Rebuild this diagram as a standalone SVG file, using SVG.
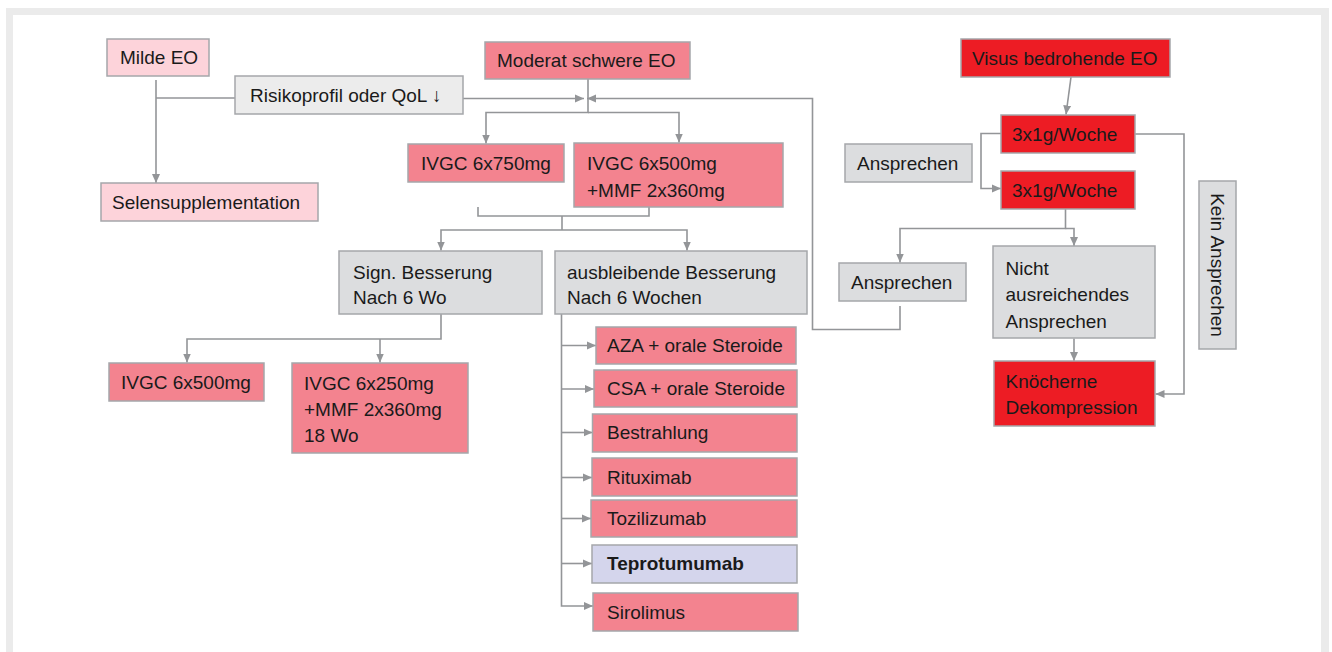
<svg xmlns="http://www.w3.org/2000/svg" width="1332" height="652" viewBox="0 0 1332 652">
<style>
text{font-family:"Liberation Sans",Arial,sans-serif;font-size:19px;fill:#1a1a1a}
.b{stroke:#a5a7aa;stroke-width:1.5}
.pl{fill:#fdd3da}
.pk{fill:#f3838f}
.rd{fill:#ed1c24}
.gy{fill:#dcdddf}
.gl{fill:#ececec}
.lv{fill:#d4d5ec}
.c{fill:none;stroke:#939598;stroke-width:1.6}
.bold{font-weight:bold}
</style>
<defs>
<marker id="ah" markerUnits="userSpaceOnUse" markerWidth="10" markerHeight="9" refX="9" refY="4.5" orient="auto">
<path d="M0,0.5 L9,4.5 L0,8.5 z" fill="#939598"/>
</marker>
</defs>
<rect x="6" y="8" width="1323" height="650" fill="#ebebeb"/>
<rect x="13" y="15" width="1308" height="640" fill="#ffffff"/>

<g id="connectors">
<path class="c" d="M156,80 V183" marker-end="url(#ah)"/>
<path class="c" d="M235,98 H156"/>
<path class="c" d="M463,98.5 H584" marker-end="url(#ah)"/>
<path class="c" d="M588,79 V112.5 H486 V143.5" marker-end="url(#ah)"/>
<path class="c" d="M588,112.5 H679 V142.5" marker-end="url(#ah)"/>
<path class="c" d="M900,306 V329.5 H812.5 V98.5 H587" marker-end="url(#ah)"/>
<path class="c" d="M478,207 V216 H649 V207"/>
<path class="c" d="M562,216 V230"/>
<path class="c" d="M562,230 H441 V250.5" marker-end="url(#ah)"/>
<path class="c" d="M562,230 H687 V250.5" marker-end="url(#ah)"/>
<path class="c" d="M441,314 V339 H187 V362.5" marker-end="url(#ah)"/>
<path class="c" d="M380,339 V362.5" marker-end="url(#ah)"/>
<path class="c" d="M561.5,314 V606 H593" marker-end="url(#ah)"/>
<path class="c" d="M561.5,345.5 H596" marker-end="url(#ah)"/>
<path class="c" d="M561.5,389 H594" marker-end="url(#ah)"/>
<path class="c" d="M561.5,432.5 H592.5" marker-end="url(#ah)"/>
<path class="c" d="M561.5,477.5 H592" marker-end="url(#ah)"/>
<path class="c" d="M561.5,518.5 H591" marker-end="url(#ah)"/>
<path class="c" d="M561.5,563.5 H592" marker-end="url(#ah)"/>
<path class="c" d="M1071,77 L1066,114.5" marker-end="url(#ah)"/>
<path class="c" d="M1001,133.5 H981 V188.5 H1001" marker-end="url(#ah)"/>
<path class="c" d="M1135,134 H1184 V394 H1155.5" marker-end="url(#ah)"/>
<path class="c" d="M1065.5,209 V228.5 H900 V262.5" marker-end="url(#ah)"/>
<path class="c" d="M1065.5,228.5 H1074 V246" marker-end="url(#ah)"/>
<path class="c" d="M1074,338.5 V361" marker-end="url(#ah)"/>
</g>

<g id="milde"><rect class="b pl" x="107" y="39" width="102" height="37"/><text x="120" y="64">Milde EO</text></g>
<g id="risiko"><rect class="b gl" x="235" y="76" width="228" height="38"/><text x="250" y="101.5">Risikoprofil oder QoL ↓</text></g>
<g id="selen"><rect class="b pl" x="101" y="183" width="217" height="38"/><text x="112" y="208.5">Selensupplementation</text></g>
<g id="moderat"><rect class="b pk" x="485" y="42" width="205" height="37"/><text x="497" y="67">Moderat schwere EO</text></g>
<g id="ivgc750"><rect class="b pk" x="408" y="144" width="156" height="38"/><text x="421" y="169.5">IVGC 6x750mg</text></g>
<g id="ivgc500mmf"><rect class="b pk" x="574" y="143" width="209" height="64"/><text x="587" y="170">IVGC 6x500mg</text><text x="587" y="196.5">+MMF 2x360mg</text></g>
<g id="sign"><rect class="b gy" x="339" y="251" width="203" height="63"/><text x="353" y="279">Sign. Besserung</text><text x="353" y="304">Nach 6 Wo</text></g>
<g id="ausbleibend"><rect class="b gy" x="555" y="251" width="252" height="63"/><text x="567" y="278.5">ausbleibende Besserung</text><text x="567" y="303.5">Nach 6 Wochen</text></g>
<g id="ivgc500"><rect class="b pk" x="109" y="363" width="155" height="38"/><text x="121" y="388.5">IVGC 6x500mg</text></g>
<g id="ivgc250"><rect class="b pk" x="292" y="363" width="176" height="90"/><text x="304" y="390">IVGC 6x250mg</text><text x="304" y="416">+MMF 2x360mg</text><text x="304" y="441.5">18 Wo</text></g>
<g id="aza"><rect class="b pk" x="596" y="327" width="200" height="37"/><text x="607" y="352">AZA + orale Steroide</text></g>
<g id="csa"><rect class="b pk" x="594" y="370" width="203" height="37"/><text x="607" y="395">CSA + orale Steroide</text></g>
<g id="bestrahlung"><rect class="b pk" x="592.5" y="414" width="204.5" height="38"/><text x="607" y="439">Bestrahlung</text></g>
<g id="rituximab"><rect class="b pk" x="592" y="458" width="205" height="38"/><text x="607" y="483.5">Rituximab</text></g>
<g id="tozilizumab"><rect class="b pk" x="591" y="500" width="206" height="37"/><text x="607" y="525">Tozilizumab</text></g>
<g id="teprotumumab"><rect class="b lv" x="592" y="545" width="205" height="38"/><text class="bold" x="607" y="570">Teprotumumab</text></g>
<g id="sirolimus"><rect class="b pk" x="593" y="593" width="205" height="38"/><text x="607" y="618.5">Sirolimus</text></g>
<g id="visus"><rect class="b rd" x="961" y="39" width="209" height="38"/><text x="972" y="64.5">Visus bedrohende EO</text></g>
<g id="woche1"><rect class="b rd" x="1001" y="115" width="134" height="38"/><text x="1012" y="140.5">3x1g/Woche</text></g>
<g id="woche2"><rect class="b rd" x="1001" y="171" width="134" height="38"/><text x="1012" y="196.5">3x1g/Woche</text></g>
<g id="ansprechen1"><rect class="b gy" x="845" y="144" width="127" height="38"/><text x="857" y="169.5">Ansprechen</text></g>
<g id="kein"><rect class="b gy" x="1199" y="181" width="37" height="168"/><text transform="translate(1211,265) rotate(90)" text-anchor="middle">Kein Ansprechen</text></g>
<g id="ansprechen2"><rect class="b gy" x="839" y="263" width="127" height="38"/><text x="851" y="288.5">Ansprechen</text></g>
<g id="nicht"><rect class="b gy" x="993" y="246" width="162" height="92"/><text x="1005.5" y="274.5">Nicht</text><text x="1005.5" y="301">ausreichendes</text><text x="1005.5" y="327.5">Ansprechen</text></g>
<g id="knoecherne"><rect class="b rd" x="994" y="361" width="161" height="65"/><text x="1005.5" y="387.5">Knöcherne</text><text x="1005.5" y="414">Dekompression</text></g>
</svg>
